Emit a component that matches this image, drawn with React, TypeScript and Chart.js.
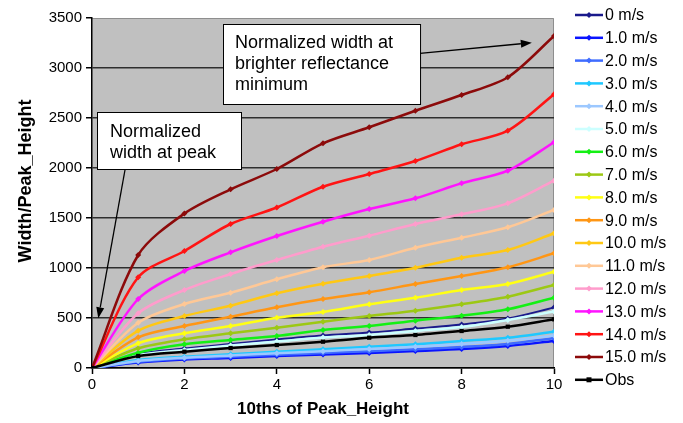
import { useEffect, useRef } from "react";
import { Chart, registerables } from "chart.js";

Chart.register(...registerables);

const FONT = "'Liberation Sans', Arial, Helvetica, sans-serif";

// Tenths of peak height at which widths were sampled
const tenths = [0, 1, 2, 3, 4, 5, 6, 7, 8, 9, 10];

// Normalized width (width / peak height) for each wind speed
const speed0 = [0, 140, 195, 240, 285, 325, 355, 395, 435, 495, 605];
const speed1 = [0, 55, 85, 100, 120, 135, 150, 170, 190, 220, 270];
const speed2 = [0, 62, 95, 112, 132, 150, 168, 188, 210, 240, 298];
const speed3 = [0, 80, 113, 137, 163, 187, 213, 237, 270, 303, 363];
const speed4 = [0, 70, 103, 125, 148, 168, 190, 212, 240, 272, 325];
const speed5 = [0, 130, 180, 225, 265, 305, 330, 370, 410, 480, 565];
const speed6 = [0, 153, 237, 280, 320, 380, 420, 473, 523, 587, 703];
const speed7 = [0, 197, 287, 347, 403, 463, 520, 573, 637, 713, 830];
const speed8 = [0, 247, 347, 420, 503, 560, 637, 703, 780, 840, 963];
const speed9 = [0, 307, 420, 513, 607, 690, 757, 840, 920, 1007, 1147];
const speed10 = [0, 373, 520, 623, 747, 843, 920, 1003, 1103, 1180, 1347];
const speed11 = [0, 453, 640, 753, 887, 1008, 1080, 1203, 1303, 1407, 1580];
const speed12 = [0, 547, 780, 940, 1080, 1213, 1323, 1440, 1537, 1647, 1873];
const speed13 = [0, 690, 970, 1157, 1320, 1463, 1590, 1697, 1847, 1973, 2257];
const speed14 = [0, 907, 1170, 1440, 1605, 1813, 1940, 2070, 2237, 2373, 2737];
const speed15 = [0, 1130, 1545, 1787, 1990, 2247, 2407, 2573, 2730, 2907, 3320];
const observed = [0, 120, 163, 200, 230, 263, 303, 330, 370, 413, 487];

const seriesLabels = [
  "0 m/s", "1.0 m/s", "2.0 m/s", "3.0 m/s", "4.0 m/s", "5.0 m/s",
  "6.0 m/s", "7.0 m/s", "8.0 m/s", "9.0 m/s", "10.0 m/s", "11.0 m/s",
  "12.0 m/s", "13.0 m/s", "14.0 m/s", "15.0 m/s", "Obs",
];
const seriesValues = [
  speed0, speed1, speed2, speed3, speed4, speed5, speed6, speed7, speed8,
  speed9, speed10, speed11, speed12, speed13, speed14, speed15, observed,
];
const seriesColors = [
  "#1a1a8c", "#0a14ff", "#3f6cff", "#1ec8ff", "#9cc8ff", "#ccffff",
  "#14f014", "#9cc814", "#ffff14", "#ff9614", "#ffc814", "#ffc896",
  "#ff9ccc", "#ff14ff", "#ff1414", "#8c0a0a", "#000000",
];

const xTickLabels = [0, 2, 4, 6, 8, 10];
const yTickLabels = [0, 500, 1000, 1500, 2000, 2500, 3000, 3500];

const xTitle = "10ths of Peak_Height";
const yTitle = "Width/Peak_Height";

// Call-out boxes, anchored in data coordinates
const minimumNote = ["Normalized width at", "brighter reflectance", "minimum"];
const peakNote = ["Normalized", "width at peak"];

function drawArrow(ctx: CanvasRenderingContext2D, x0: number, y0: number, x1: number, y1: number) {
  const ang = Math.atan2(y1 - y0, x1 - x0);
  const len = 11;
  const half = 4;
  const bx = x1 - len * Math.cos(ang);
  const by = y1 - len * Math.sin(ang);
  ctx.strokeStyle = "#000";
  ctx.lineWidth = 1.3;
  ctx.beginPath();
  ctx.moveTo(x0, y0);
  ctx.lineTo(bx, by);
  ctx.stroke();
  ctx.fillStyle = "#000";
  ctx.beginPath();
  ctx.moveTo(x1, y1);
  ctx.lineTo(bx + half * Math.sin(ang), by - half * Math.cos(ang));
  ctx.lineTo(bx - half * Math.sin(ang), by + half * Math.cos(ang));
  ctx.closePath();
  ctx.fill();
}

function drawNote(
  ctx: CanvasRenderingContext2D,
  left: number, top: number, right: number, bottom: number,
  lines: string[], padX: number, firstBase: number, step: number,
) {
  ctx.fillStyle = "#ffffff";
  ctx.fillRect(left, top, right - left, bottom - top);
  ctx.strokeStyle = "#000";
  ctx.lineWidth = 1;
  ctx.strokeRect(Math.round(left) + 0.5, Math.round(top) + 0.5, right - left, bottom - top);
  ctx.fillStyle = "#000";
  ctx.font = `18px ${FONT}`;
  ctx.textAlign = "left";
  ctx.textBaseline = "alphabetic";
  lines.forEach((t, i) => ctx.fillText(t, left + padX, top + firstBase + i * step));
}

const decorPlugin = {
  id: "decor",
  beforeDraw(chart: any) {
    const { ctx, chartArea: a } = chart;
    ctx.save();
    ctx.fillStyle = "#c0c0c0";
    ctx.fillRect(a.left, a.top, a.right - a.left, a.bottom - a.top);
    ctx.strokeStyle = "#8e8e8e";
    ctx.lineWidth = 1;
    ctx.beginPath();
    ctx.moveTo(a.left, a.top + 0.5);
    ctx.lineTo(a.right - 0.5, a.top + 0.5);
    ctx.lineTo(a.right - 0.5, a.bottom);
    ctx.stroke();
    ctx.restore();
  },
  afterDraw(chart: any) {
    const { ctx } = chart;
    const xs = chart.scales.x;
    const ys = chart.scales.y;
    const px = (v: number) => xs.getPixelForValue(v);
    const py = (v: number) => ys.getPixelForValue(v);
    ctx.save();

    // vertical axis title
    ctx.save();
    ctx.translate(26, 181);
    ctx.rotate(-Math.PI / 2);
    ctx.font = `bold 18px ${FONT}`;
    ctx.fillStyle = "#000";
    ctx.textAlign = "center";
    ctx.textBaseline = "middle";
    ctx.fillText(yTitle, 0, 0);
    ctx.restore();

    // call-outs
    drawNote(ctx, px(2.835), py(3440), px(7.1), py(2640), minimumNote, 12, 23.5, 21);
    drawArrow(ctx, px(7.1), py(3147), px(9.52), py(3253));
    drawNote(ctx, px(0.108), py(2560), px(3.225), py(1990), peakNote, 13, 24.7, 21);
    drawArrow(ctx, px(0.714), py(1980), px(0.136), py(497));

    // legend
    const lx0 = 575;
    const lx1 = 603;
    const ly0 = 15;
    const lstep = 22.8;
    ctx.font = `16px ${FONT}`;
    ctx.textAlign = "left";
    ctx.textBaseline = "middle";
    seriesLabels.forEach((label, i) => {
      const y = ly0 + i * lstep;
      const c = seriesColors[i];
      ctx.strokeStyle = c;
      ctx.lineWidth = 2.5;
      ctx.beginPath();
      ctx.moveTo(lx0, y);
      ctx.lineTo(lx1, y);
      ctx.stroke();
      ctx.fillStyle = c;
      const cx = (lx0 + lx1) / 2;
      ctx.beginPath();
      if (i === seriesLabels.length - 1) {
        ctx.rect(cx - 2.5, y - 2.5, 5, 5);
      } else {
        ctx.moveTo(cx, y - 3);
        ctx.lineTo(cx + 3, y);
        ctx.lineTo(cx, y + 3);
        ctx.lineTo(cx - 3, y);
        ctx.closePath();
      }
      ctx.fill();
      ctx.fillStyle = "#000";
      ctx.fillText(label, 605, y + 1);
    });
    ctx.restore();
  },
};

export default function App() {
  const canvasRef = useRef<HTMLCanvasElement | null>(null);

  useEffect(() => {
    document.body.style.margin = "0";
    const canvas = canvasRef.current;
    if (!canvas) return;

    const n = seriesValues.length;
    const datasets = seriesValues.map((vals, i) => ({
      label: seriesLabels[i],
      data: tenths.map((t, j) => ({ x: t, y: vals[j] })),
      borderColor: seriesColors[i],
      backgroundColor: seriesColors[i],
      borderWidth: i === 0 ? 1.8 : 2.5,
      pointRadius: 3,
      pointHoverRadius: 3,
      pointStyle: i === n - 1 ? "rect" : "rectRot",
      pointBorderWidth: 0,
      tension: 0.3,
      fill: false,
      order: n - i,
    }));

    const chart = new Chart(canvas, {
      type: "line",
      data: { datasets },
      plugins: [decorPlugin],
      options: {
        animation: false,
        responsive: true,
        maintainAspectRatio: false,
        layout: { padding: { top: 18, right: 129, left: 0, bottom: 0 } },
        plugins: {
          legend: { display: false },
          tooltip: { enabled: false },
        },
        scales: {
          x: {
            type: "linear",
            min: xTickLabels[0],
            max: xTickLabels[xTickLabels.length - 1],
            afterFit: (s: any) => { s.height = 55; },
            afterBuildTicks: (s: any) => { s.ticks = xTickLabels.map((v) => ({ value: v })); },
            grid: { drawOnChartArea: false, drawTicks: true, tickLength: 6, tickColor: "#000", tickWidth: 1.5 },
            border: { color: "#000", width: 1.5 },
            ticks: {
              color: "#000",
              padding: 2,
              font: { family: FONT, size: 15 },
              maxRotation: 0,
              callback: (v: any) => String(v),
            },
            title: {
              display: true,
              text: xTitle,
              color: "#000",
              font: { family: FONT, size: 17, weight: "bold" },
              padding: { top: 0, bottom: 3 },
            },
          },
          y: {
            type: "linear",
            min: yTickLabels[0],
            max: yTickLabels[yTickLabels.length - 1],
            afterFit: (s: any) => { s.width = 92; },
            afterBuildTicks: (s: any) => { s.ticks = yTickLabels.map((v) => ({ value: v })); },
            grid: {
              drawOnChartArea: true,
              drawTicks: true,
              tickLength: 6,
              tickColor: "#000",
              color: (c: any) => (c.tick && c.tick.value === yTickLabels[yTickLabels.length - 1] ? "rgba(0,0,0,0)" : "#2e2e2e"),
              lineWidth: 1.5,
            },
            border: { color: "#000", width: 1.5 },
            ticks: {
              color: "#000",
              padding: 4,
              font: { family: FONT, size: 15 },
              callback: (v: any) => String(v),
            },
            title: { display: false },
          },
        },
      },
    } as any);

    return () => chart.destroy();
  }, []);

  return (
    <div style={{ position: "relative", width: 683, height: 423, background: "#fff" }}>
      <canvas ref={canvasRef} />
    </div>
  );
}
